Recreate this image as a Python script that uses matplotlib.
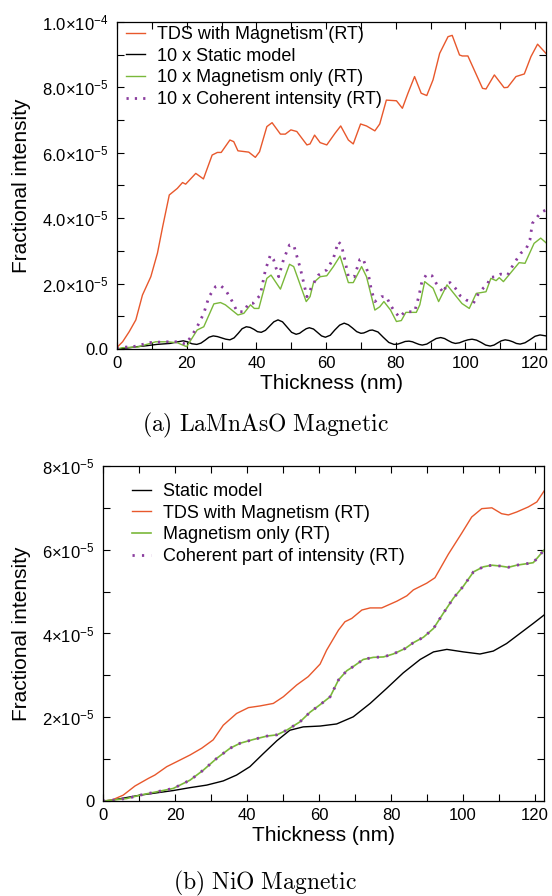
import matplotlib
matplotlib.use("Agg")
import matplotlib.pyplot as plt
from matplotlib.ticker import MultipleLocator

plt.rcParams["font.family"] = ["Liberation Sans", "DejaVu Sans"]
plt.rcParams["mathtext.fontset"] = "custom"
plt.rcParams["mathtext.rm"] = "Liberation Sans"
plt.rcParams["mathtext.it"] = "Liberation Sans:italic"
plt.rcParams["mathtext.bf"] = "Liberation Sans:bold"

ORANGE = "#e8582c"
GREEN = "#7ab83a"
PURPLE = "#8a3c9e"

# ---- (a) LaMnAsO, values in units of 1e-5 ----
tds_a_x = [0, 1.6, 3.5, 5.4, 7.3, 9.7, 11.6, 13.1, 15.0, 17.3, 18.8, 19.7, 22.6, 24.8, 27.3, 28.8,
           29.9, 32.4, 33.5, 34.7, 37.8, 39.7, 40.9, 43.0, 44.5, 46.9, 48.3, 49.9, 51.6, 54.5, 55.4,
           56.7, 58.3, 60.2, 62.6, 64.2, 66.4, 67.8, 69.9, 71.6, 74.0, 75.4, 77.3, 80.2, 81.9, 83.5,
           85.4, 87.3, 88.9, 90.7, 92.6, 95.0, 96.2, 98.3, 99.1, 100.7, 104.9, 105.9, 108.3, 111.1,
           112.1, 114.5, 116.9, 118.8, 120.7, 123.1]
tds_a_y = [0.05, 0.22, 0.53, 0.89, 1.65, 2.21, 2.93, 3.74, 4.71, 4.91, 5.09, 5.04, 5.37, 5.20, 5.93, 6.01,
           6.01, 6.39, 6.34, 6.06, 6.02, 5.86, 6.03, 6.80, 6.92, 6.57, 6.57, 6.70, 6.65, 6.24, 6.27,
           6.54, 6.31, 6.24, 6.60, 6.82, 6.39, 6.27, 6.88, 6.82, 6.67, 6.88, 7.61, 7.59, 7.36, 7.82,
           8.33, 7.82, 7.75, 8.23, 9.04, 9.55, 9.59, 8.99, 8.96, 8.96, 7.97, 7.95, 8.38, 7.99,
           8.00, 8.33, 8.41, 8.94, 9.32, 9.04]

static_a_x = [0, 3.0, 5.7, 8.5, 11.4, 15.2, 17.5, 19.0, 20.2, 21.5, 22.9,
              24.1, 25.3, 26.4, 27.6, 28.8, 30.0, 31.2, 32.4, 33.6, 34.8, 35.9, 37.1,
              38.2, 39.3, 40.3, 41.4, 42.6, 43.8, 45.0, 46.2, 47.5, 48.8, 50.1, 51.4,
              52.4, 53.3, 54.3, 55.2, 56.4, 57.5, 58.7, 59.8, 61.2, 62.5, 63.9, 65.2,
              66.4, 67.6, 68.8, 70.0, 70.8, 71.7, 72.5, 73.3, 74.9, 76.4, 78.0, 79.5,
              80.6, 81.7, 82.7, 83.8, 84.8, 85.7, 86.7, 87.6, 88.9, 90.3, 91.6, 92.9,
              94.0, 95.0, 96.1, 97.1, 98.3, 99.5, 100.7, 101.9, 103.2, 104.5, 105.8, 107.1,
              108.2, 109.3, 110.3, 111.4, 112.5, 113.6, 114.6, 115.7, 117.1, 118.6, 120.0, 121.4, 123.1]
static_a_y = [0.0, 0.03, 0.07, 0.10, 0.14, 0.17, 0.22, 0.25, 0.22, 0.16, 0.14,
              0.18, 0.27, 0.36, 0.40, 0.38, 0.34, 0.30, 0.28, 0.34, 0.48, 0.62, 0.68,
              0.66, 0.60, 0.53, 0.51, 0.57, 0.70, 0.83, 0.89, 0.83, 0.67, 0.51, 0.45,
              0.48, 0.55, 0.62, 0.65, 0.61, 0.51, 0.40, 0.36, 0.42, 0.58, 0.73, 0.79,
              0.74, 0.64, 0.53, 0.48, 0.49, 0.53, 0.57, 0.58, 0.52, 0.36, 0.20, 0.14,
              0.15, 0.19, 0.23, 0.24, 0.22, 0.18, 0.14, 0.12, 0.15, 0.24, 0.32, 0.35,
              0.32, 0.26, 0.20, 0.17, 0.19, 0.24, 0.28, 0.30, 0.27, 0.20, 0.12, 0.09,
              0.12, 0.19, 0.25, 0.28, 0.26, 0.22, 0.17, 0.15, 0.19, 0.29, 0.39, 0.43, 0.40]

mag_a_x = [0, 1.6, 5.9, 11.1, 14.5, 17.3, 20.0, 23.0, 24.9, 27.8, 29.7, 31.1, 34.7, 36.4, 38.3, 39.4,
           40.7, 43.0, 44.2, 46.9, 49.5, 50.7, 54.3, 55.4, 56.4, 58.3, 60.2, 62.1, 64.0, 66.4, 67.8,
           70.2, 71.6, 74.0, 75.4, 76.6, 78.5, 80.2, 81.6, 82.9, 85.9, 86.9, 88.3, 90.7, 92.3, 94.7,
           99.0, 101.1, 103.1, 105.9, 107.3, 108.8, 109.7, 110.9, 115.4, 117.1, 119.7, 121.6, 123.1]
mag_a_y = [0.0, 0.04, 0.06, 0.22, 0.22, 0.19, 0.07, 0.58, 0.68, 1.38, 1.42, 1.35, 1.04, 1.09, 1.35, 1.24,
           1.24, 2.16, 2.26, 1.83, 2.59, 2.52, 1.45, 1.60, 2.03, 2.21, 2.24, 2.52, 2.84, 2.03, 2.03,
           2.52, 2.21, 1.19, 1.29, 1.45, 1.19, 0.84, 0.87, 1.12, 1.12, 1.35, 2.06, 1.86, 1.45, 1.96,
           1.39, 1.24, 1.70, 1.75, 2.16, 2.09, 2.18, 2.06, 2.64, 2.62, 3.23, 3.39, 3.25]

coh_a_x = [0, 1.6, 5.0, 9.7, 14.5, 17.5, 19.7, 21.6, 23.0, 24.9, 26.4, 28.3, 29.5, 31.1, 32.6, 34.5,
           36.4, 37.8, 39.1, 41.1, 42.6, 44.0, 44.9, 46.4, 47.8, 49.5, 50.7, 52.6, 54.5, 55.9, 57.8,
           60.2, 62.1, 63.5, 64.4, 65.4, 66.4, 68.1, 69.7, 70.6, 72.1, 73.0, 74.0, 75.9, 77.3, 78.5,
           79.7, 81.1, 82.6, 85.4, 86.6, 87.5, 88.9, 90.4, 91.6, 93.7, 94.7, 95.6, 97.1, 98.5, 100.2,
           102.3, 103.5, 105.1, 106.3, 107.0, 108.8, 110.1, 112.1, 113.3, 114.7, 115.9, 117.5, 118.5,
           119.2, 120.7, 122.1, 123.1]
coh_a_y = [0.0, 0.05, 0.08, 0.20, 0.22, 0.22, 0.15, 0.43, 0.68, 1.09, 1.60, 1.91, 1.96, 1.81, 1.55, 1.14,
           1.14, 1.40, 1.40, 1.65, 2.42, 2.87, 2.74, 2.21, 2.74, 3.18, 3.18, 2.47, 1.60, 1.91, 2.26,
           2.42, 2.77, 3.28, 3.18, 2.72, 2.21, 2.21, 2.74, 2.77, 2.31, 1.80, 1.45, 1.60, 1.60, 1.34,
           1.14, 0.97, 1.14, 1.14, 1.60, 2.06, 2.29, 2.24, 2.01, 1.72, 2.01, 2.03, 1.86, 1.63, 1.50,
           1.40, 1.65, 1.86, 1.96, 2.19, 2.21, 2.29, 2.26, 2.50, 2.74, 2.93, 3.08, 3.33,
           3.84, 4.05, 4.20, 4.25]

# ---- (b) NiO, values in units of 1e-5 ----
static_b_x = [0, 2.4, 10.3, 19.5, 24.2, 28.8, 33.4, 37.1, 40.8, 44.5, 48.3, 51.9, 55.6, 60.3, 64.9,
              69.5, 74.2, 78.8, 83.4, 88.1, 91.8, 95.5, 100.1, 104.7, 108.4, 112.1, 115.8, 119.5, 122.5]
static_b_y = [0.0, 0.02, 0.14, 0.25, 0.32, 0.38, 0.48, 0.62, 0.82, 1.13, 1.44, 1.69, 1.77, 1.79, 1.84,
              2.01, 2.33, 2.69, 3.06, 3.38, 3.56, 3.62, 3.56, 3.51, 3.58, 3.76, 4.00, 4.24, 4.44]

tds_b_x = [0, 2.4, 5.6, 8.9, 12.6, 14.4, 17.7, 20.5, 24.2, 27.4, 30.6, 33.4, 37.1, 40.4, 43.6, 47.3,
           50.1, 53.8, 57.0, 60.3, 62.1, 65.4, 67.2, 69.1, 71.9, 74.2, 77.4, 81.6, 84.4, 86.2, 89.9,
           92.2, 95.9, 99.6, 102.4, 105.2, 108.0, 110.7, 112.6, 114.9, 118.1, 120.5, 122.5]
tds_b_y = [0.0, 0.02, 0.14, 0.36, 0.54, 0.62, 0.82, 0.94, 1.10, 1.26, 1.46, 1.81, 2.09, 2.23, 2.27, 2.33,
           2.49, 2.77, 2.97, 3.27, 3.60, 4.08, 4.28, 4.36, 4.56, 4.61, 4.61, 4.77, 4.90, 5.04, 5.20,
           5.33, 5.89, 6.39, 6.78, 6.98, 7.00, 6.86, 6.83, 6.90, 7.02, 7.14, 7.40]

mag_b_x = [0, 2.4, 6.6, 10.3, 14.9, 19.5, 24.2, 27.9, 31.6, 35.3, 38.1, 41.8, 45.5, 48.3, 51.0, 54.7,
           57.5, 60.3, 63.1, 65.4, 67.7, 69.5, 72.3, 75.1, 77.9, 80.6, 83.9, 86.2, 89.0, 91.8, 94.5,
           97.3, 100.1, 102.9, 105.6, 108.0, 110.3, 112.6, 114.9, 117.2, 119.5, 120.9, 122.5]
mag_b_y = [0.0, 0.02, 0.06, 0.14, 0.22, 0.30, 0.50, 0.74, 1.02, 1.26, 1.38, 1.47, 1.55, 1.58, 1.69, 1.89,
           2.12, 2.30, 2.49, 2.89, 3.11, 3.21, 3.38, 3.43, 3.44, 3.51, 3.64, 3.78, 3.91, 4.12, 4.48,
           4.84, 5.13, 5.47, 5.59, 5.63, 5.61, 5.58, 5.63, 5.66, 5.69, 5.83, 5.99]

coh_b_x = mag_b_x
coh_b_y = mag_b_y

yticks_a = [0, 2, 4, 6, 8, 10]
yticklabels_a = ["0.0", r"$2.0{\times}10^{-5}$", r"$4.0{\times}10^{-5}$", r"$6.0{\times}10^{-5}$",
                 r"$8.0{\times}10^{-5}$", r"$1.0{\times}10^{-4}$"]
yticks_b = [0, 2, 4, 6, 8]
yticklabels_b = ["0", r"$2{\times}10^{-5}$", r"$4{\times}10^{-5}$", r"$6{\times}10^{-5}$", r"$8{\times}10^{-5}$"]
xticks = [0, 20, 40, 60, 80, 100, 120]

fig = plt.figure(figsize=(5.52, 8.96), dpi=100)
ax1 = fig.add_axes([0.212, 0.6105, 0.777, 0.365])
ax2 = fig.add_axes([0.1866, 0.106, 0.799, 0.374])

s = 1e-5
ax1.plot(tds_a_x, [v * s for v in tds_a_y], color=ORANGE, lw=1.0, label="TDS with Magnetism (RT)")
ax1.plot(static_a_x, [v * s for v in static_a_y], color="black", lw=1.0, label="10 x Static model")
ax1.plot(mag_a_x, [v * s for v in mag_a_y], color=GREEN, lw=1.0, label="10 x Magnetism only (RT)")
ax1.plot(coh_a_x, [v * s for v in coh_a_y], color=PURPLE, lw=2.0, ls=(0, (0.8, 2.2)),
         label="10 x Coherent intensity (RT)")

ax2.plot(static_b_x, [v * s for v in static_b_y], color="black", lw=1.0, label="Static model")
ax2.plot(tds_b_x, [v * s for v in tds_b_y], color=ORANGE, lw=1.0, label="TDS with Magnetism (RT)")
ax2.plot(mag_b_x, [v * s for v in mag_b_y], color=GREEN, lw=1.2, label="Magnetism only (RT)")
ax2.plot(coh_b_x, [v * s for v in coh_b_y], color=PURPLE, lw=2.0, ls=(0, (0.8, 2.6)),
         label="Coherent part of intensity (RT)")

panels = [(ax1, 123.1, 10, yticks_a, yticklabels_a, -0.200, (0.021, 0.988)),
          (ax2, 122.5, 8, yticks_b, yticklabels_b, -0.163, (0.066, 0.949))]
for ax, xmax, ymax, yt, ytl, ylab_x, leg_anchor in panels:
    ax.set_xlim(0, xmax)
    ax.set_ylim(0, ymax * s)
    ax.set_xticks(xticks)
    ax.set_yticks([v * s for v in yt])
    ax.set_yticklabels(ytl)
    ax.xaxis.set_minor_locator(MultipleLocator(10))
    ax.yaxis.set_minor_locator(MultipleLocator(1e-5))
    ax.tick_params(which="both", direction="in", top=True, right=True, length=5, width=0.8,
                   labelsize=12)
    ax.tick_params(axis="x", pad=5)
    ax.tick_params(axis="y", pad=6)
    for sp in ax.spines.values():
        sp.set_linewidth(0.9)
    ax.set_xlabel("Thickness (nm)", fontsize=15, labelpad=2)
    ax.set_ylabel("Fractional intensity", fontsize=15)
    ax.yaxis.set_label_coords(ylab_x, 0.5)
    ax.legend(loc="upper left", bbox_to_anchor=leg_anchor, frameon=False, fontsize=13,
              handlelength=1.05, handletextpad=0.67, labelspacing=0.26,
              borderaxespad=0, borderpad=0)

fig.text(0.48, 0.5257, r"$\mathrm{(a)\ LaMnAsO\ Magnetic}$", math_fontfamily="cm", fontsize=17,
         ha="center", va="center")
fig.text(0.48, 0.0145, r"$\mathrm{(b)\ NiO\ Magnetic}$", math_fontfamily="cm", fontsize=17,
         ha="center", va="center")

fig.savefig("out.png", dpi=100)
